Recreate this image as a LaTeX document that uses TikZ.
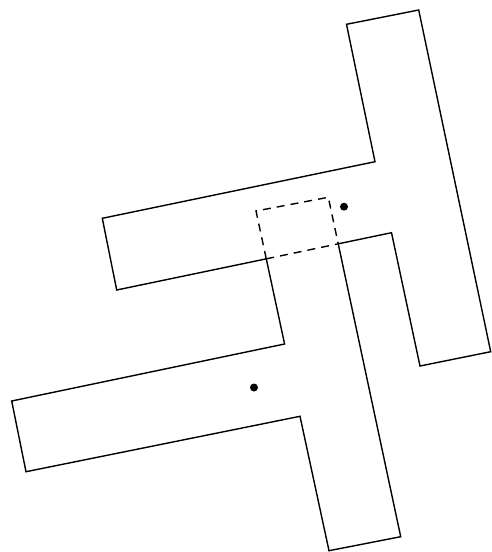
\documentclass[tikz,border=0pt]{standalone}
\begin{document}
\begin{tikzpicture}[x=1pt,y=-1pt,
  edge/.style={line width=1.4pt,line join=miter},
  hidden/.style={line width=1.4pt,dash pattern=on 8pt off 6pt},
  dot/.style={fill=black}]
\useasboundingbox (0,0) rectangle (492,552);
% upper shape
\coordinate (U1) at (346.5,24.3);
\coordinate (U2) at (418.7,10);
\coordinate (U3) at (490.7,351.7);
\coordinate (U4) at (420,366);
\coordinate (U5) at (391.5,232.7);
\coordinate (U8) at (116.7,290);
\coordinate (U9) at (102.3,218.3);
\coordinate (U10) at (375,161.7);
% lower shape
\coordinate (L1) at (256,211);
\coordinate (L2) at (328.3,197.3);
\coordinate (L4) at (400.7,536.7);
\coordinate (L5) at (329,550.7);
\coordinate (L6) at (300,416.3);
\coordinate (L7) at (26,471.7);
\coordinate (L8) at (11.7,401);
\coordinate (L9) at (284.6,344);
% overlap corners
\coordinate (P3) at (intersection of L2--L4 and U8--U5);
\coordinate (P4) at (intersection of L1--L6 and U8--U5);
% upper shape outline
\draw[edge] (P4) -- (U8) -- (U9) -- (U10) -- (U1) -- (U2) -- (U3) -- (U4) -- (U5) -- (P3);
\draw[hidden] (P4) -- (P3);
% lower shape outline
\draw[edge] (P4) -- (L9) -- (L8) -- (L7) -- (L6) -- (L5) -- (L4) -- (P3);
\draw[hidden] (P4) -- (L1) -- (L2) -- (P3);
% dots
\fill[dot] (344,206.7) circle (4pt);
\fill[dot] (254,387.5) circle (4pt);
\end{tikzpicture}
\end{document}
